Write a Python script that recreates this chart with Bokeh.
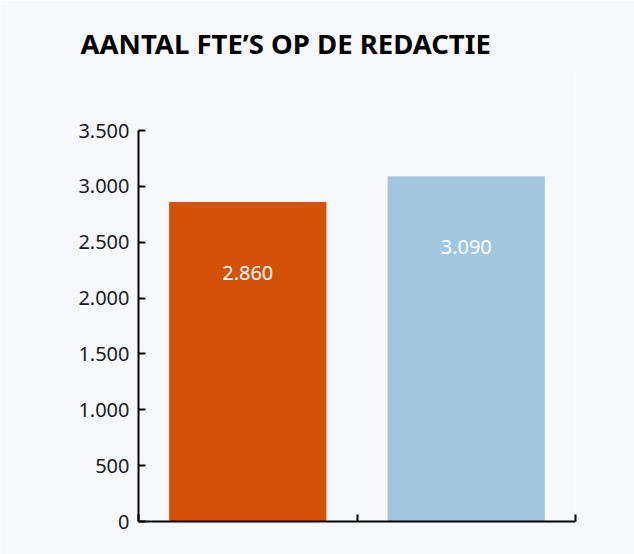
from bokeh.plotting import figure
from bokeh.models import Range1d, FixedTicker, ColumnDataSource
from bokeh.embed import file_html
from bokeh.resources import INLINE

title_text = "AANTAL FTE\u2019S OP DE REDACTIE"
categories = ["A", "B"]
values = [2860, 3090]
colors = ["#d35208", "#a3c6df"]
y_ticks = [0, 500, 1000, 1500, 2000, 2500, 3000, 3500]
value_labels = [f"{v:,}".replace(",", ".") for v in values]

BG = "#f6f8fc"
FONT = "Noto Sans"

# layout: frame runs from 66px to 521px; the axis itself only spans 0..3500 (130px..521px)
FRAME_TOP, AXIS_TOP, FRAME_BOTTOM = 66, 130, 521
Y_AXIS_MAX = y_ticks[-1]
Y_RANGE_MAX = Y_AXIS_MAX * (FRAME_BOTTOM - FRAME_TOP) / (FRAME_BOTTOM - AXIS_TOP)

xs = [i + 0.5 for i in range(len(categories))]
src = ColumnDataSource(dict(x=xs, top=values, color=colors, label=value_labels))

p = figure(width=634, height=554, output_backend="svg", toolbar_location=None,
           x_range=Range1d(0, len(categories)), y_range=Range1d(0, Y_RANGE_MAX),
           min_border_left=138, min_border_right=59, min_border_bottom=554 - FRAME_BOTTOM,
           min_border_top=FRAME_TOP)

p.background_fill_color = BG
p.border_fill_color = BG
p.outline_line_color = None
p.grid.visible = False

p.title.text = title_text
p.title.text_font = FONT
p.title.text_font_style = "bold"
p.title.text_font_size = "27.5px"
p.title.text_color = "#000000"
p.title.align = "left"
p.title.vertical_align = "bottom"
p.title.offset = -58
p.title.standoff = 10

p.vbar(x="x", top="top", bottom=0, width=0.72, color="color", source=src, line_color=None)
p.text(x="x", y="top", text="label", source=src, y_offset=71, text_align="center",
       text_baseline="middle", text_color="white", text_font_size="20px",
       text_font={"value": FONT})

ya = p.yaxis[0]
ya.bounds = (0, Y_AXIS_MAX)
ya.ticker = FixedTicker(ticks=y_ticks)
ya.major_label_overrides = {t: f"{t:,}".replace(",", ".") for t in y_ticks}
ya.major_tick_in = 7
ya.major_tick_out = 0
ya.minor_tick_in = 0
ya.minor_tick_out = 0
ya.axis_line_width = 2
ya.major_tick_line_width = 2
ya.axis_line_color = "black"
ya.major_tick_line_color = "black"
ya.major_label_text_font = FONT
ya.major_label_text_font_size = "20px"
ya.major_label_text_color = "#1a1a1a"
ya.major_label_standoff = 9

xa = p.xaxis[0]
x_ticks = list(range(len(categories) + 1))
xa.ticker = FixedTicker(ticks=x_ticks)
xa.major_label_overrides = {t: "" for t in x_ticks}
xa.major_tick_in = 7
xa.major_tick_out = 0
xa.minor_tick_in = 0
xa.minor_tick_out = 0
xa.axis_line_width = 2
xa.major_tick_line_width = 2
xa.axis_line_color = "black"
xa.major_tick_line_color = "black"
xa.major_label_standoff = 0

html = file_html(p, INLINE)
html = html.replace("<body>", f'<body style="background:{BG};margin:0">', 1)
open("out.html", "w").write(html)
